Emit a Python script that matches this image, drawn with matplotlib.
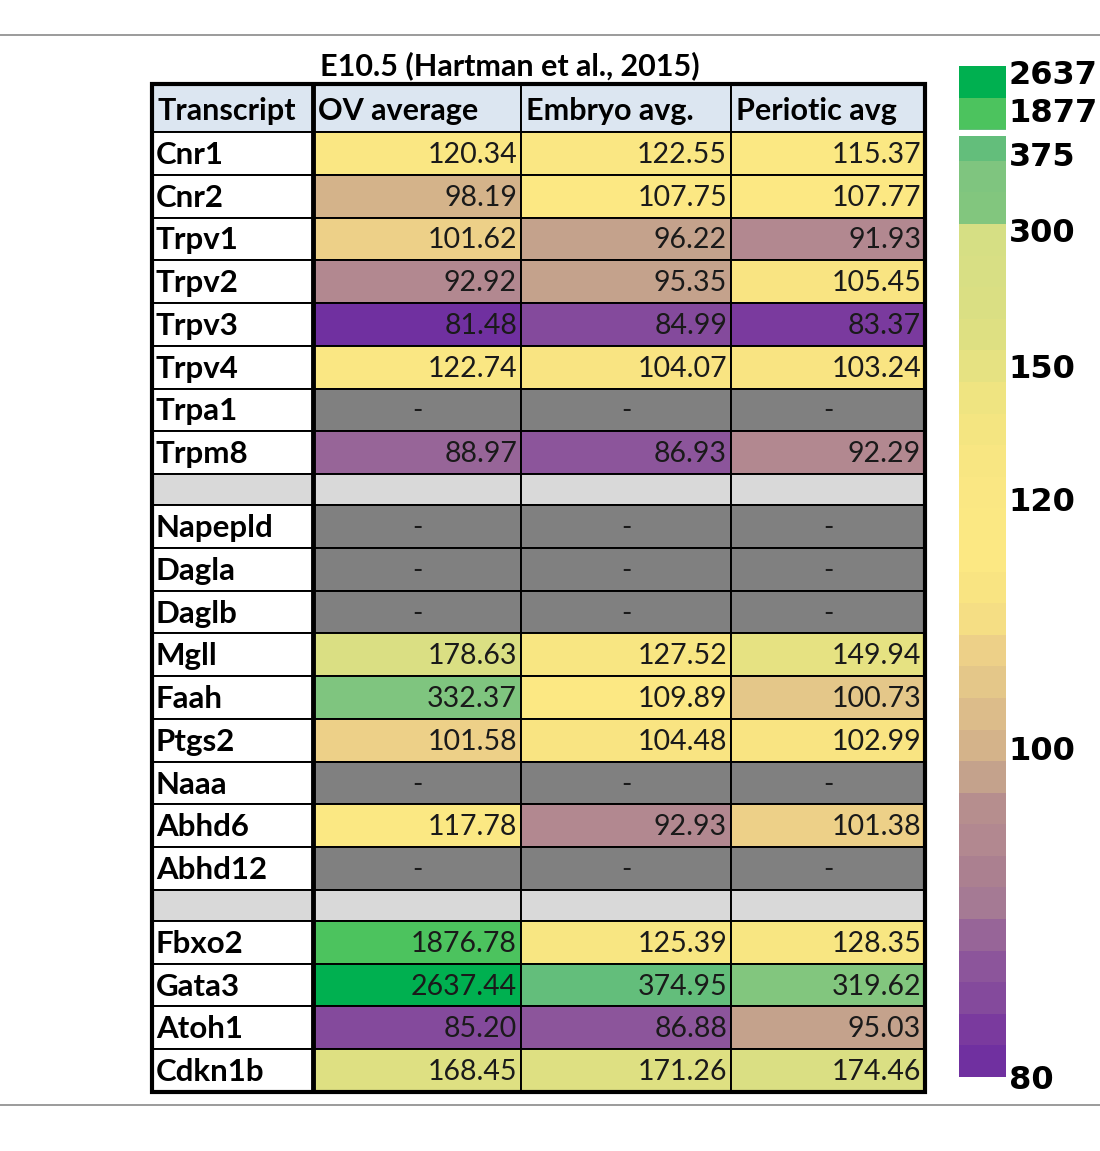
import numpy as np
import matplotlib
matplotlib.use('Agg')
import matplotlib.pyplot as plt
from matplotlib.patches import Rectangle
from matplotlib.lines import Line2D
from matplotlib.colors import ListedColormap

# The sheet: '' marks the grey spacer rows, nan a missing value
columns = ['Transcript', 'OV average', 'Embryo avg.', 'Periotic avg']
transcripts = ['Cnr1', 'Cnr2', 'Trpv1', 'Trpv2', 'Trpv3', 'Trpv4', 'Trpa1', 'Trpm8', '',
               'Napepld', 'Dagla', 'Daglb', 'Mgll', 'Faah', 'Ptgs2', 'Naaa', 'Abhd6', 'Abhd12', '',
               'Fbxo2', 'Gata3', 'Atoh1', 'Cdkn1b']
nan = np.nan
ov_average = [120.34, 98.19, 101.62, 92.92, 81.48, 122.74, nan, 88.97, nan,
              nan, nan, nan, 178.63, 332.37, 101.58, nan, 117.78, nan, nan,
              1876.78, 2637.44, 85.20, 168.45]
embryo_avg = [122.55, 107.75, 96.22, 95.35, 84.99, 104.07, nan, 86.93, nan,
              nan, nan, nan, 127.52, 109.89, 104.48, nan, 92.93, nan, nan,
              125.39, 374.95, 86.88, 171.26]
periotic_avg = [115.37, 107.77, 91.93, 105.45, 83.37, 103.24, nan, 92.29, nan,
                nan, nan, nan, 149.94, 100.73, 102.99, nan, 101.38, nan, nan,
                128.35, 319.62, 95.03, 174.46]
title = 'E10.5 (Hartman et al., 2015)'
cbar_ticks = [80, 100, 120, 150, 300, 375, 1877, 2637]

# 32 colour bands, purple -> yellow -> green (bottom to top of the colour bar)
band_colors = ['#7030A0', '#7A3A9E', '#844A9C', '#8C559B', '#976598', '#A57A94',
               '#AB8090', '#B28890', '#B68E8E', '#C4A28C', '#D4B38A', '#DCBC8A',
               '#E4C789', '#EDD088', '#F5DE84', '#F9E482', '#FCE883', '#FBE883',
               '#FAE783', '#F8E682', '#F4E581', '#EFE481', '#E6E282', '#DEE082',
               '#DADF83', '#D8DF84', '#D6DF84', '#82C67E', '#7FC57F', '#63BE7B',
               '#4CC35E', '#00B050']
# non-linear scale: value -> band level
scale_values = [80, 85, 89, 92.5, 95, 98, 100, 100.7, 101.4, 102.5, 103, 104, 110, 120,
                150, 180, 300, 320, 332, 375, 1877, 2637]
scale_levels = [0, 2.5, 4.8, 7.5, 9.3, 10.3, 10.4, 12.2, 13.2, 14.5, 15.1, 15.4, 16.5, 18.3,
                22.5, 24.5, 26.8, 27.3, 28.5, 29.2, 30.6, 31.8]


def level(v):
    return np.interp(v, scale_values, scale_levels)


def cell_color(v):
    i = int(np.clip(np.floor(level(v)), 0, len(band_colors) - 1))
    return band_colors[i]


W, H = 1100, 1151
fig = plt.figure(figsize=(W / 100, H / 100), dpi=100)
fig.patch.set_facecolor('white')

# thin rules of the page crop
for yy in (35, 1105):
    fig.add_artist(Line2D([0, 1], [1 - yy / H] * 2, color='#8a8a8a', lw=1.2))

fig.text(510 / W, 1 - 66 / H, title, ha='center', va='center',
         fontsize=22, fontweight='bold', family='Lato')

# table
col_w = [161, 208, 210, 194]
header_h, row_h, gap_h = 48, 42.76, 31
tab_w = sum(col_w)
heights = [header_h] + [gap_h if t == '' else row_h for t in transcripts]
tab_h = sum(heights)
ax = fig.add_axes([152 / W, 1 - 1092 / H, tab_w / W, tab_h / H])
ax.set_xlim(0, tab_w)
ax.set_ylim(tab_h, 0)
ax.axis('off')

xs = np.concatenate([[0], np.cumsum(col_w)])
ys = np.concatenate([[0], np.cumsum(heights)])
series = [ov_average, embryo_avg, periotic_avg]

for c, name in enumerate(columns):
    ax.add_patch(Rectangle((xs[c], 0), col_w[c], header_h, facecolor='#DCE6F1',
                           edgecolor='black', lw=1.4))
    ax.text(xs[c] + 5, header_h / 2 + 3, name, ha='left', va='center',
            fontsize=22, fontweight='bold', family='Lato', color='black')

for r, name in enumerate(transcripts):
    y0, h = ys[r + 1], heights[r + 1]
    yc = y0 + h / 2 + 1.5
    if name == '':
        for c in range(4):
            ax.add_patch(Rectangle((xs[c], y0), col_w[c], h, facecolor='#D9D9D9',
                                   edgecolor='black', lw=1.4))
        continue
    ax.add_patch(Rectangle((xs[0], y0), col_w[0], h, facecolor='white',
                           edgecolor='black', lw=1.4))
    ax.text(xs[0] + 4, yc, name, ha='left', va='center', fontsize=22.5,
            fontweight='bold', family='Lato', color='black')
    for c, vals in enumerate(series, start=1):
        v = vals[r]
        if np.isnan(v):
            ax.add_patch(Rectangle((xs[c], y0), col_w[c], h, facecolor='#808080',
                                   edgecolor='black', lw=1.4))
            ax.text(xs[c] + col_w[c] / 2, yc, '-', ha='center', va='center',
                    fontsize=20, family='Lato', color='#1a1a1a')
        else:
            ax.add_patch(Rectangle((xs[c], y0), col_w[c], h, facecolor=cell_color(v),
                                   edgecolor='black', lw=1.4))
            ax.text(xs[c + 1] - 4, yc, f'{v:.2f}', ha='right', va='center',
                    fontsize=20.5, family='Lato', color='#1a1a1a')

# heavy frame and first-column rule
ax.add_patch(Rectangle((0, 0), tab_w, tab_h, fill=False, edgecolor='black',
                       lw=3, clip_on=False))
ax.plot([xs[1], xs[1]], [0, tab_h], color='black', lw=3.5, clip_on=False,
        solid_capstyle='butt')

# colour bar
cax = fig.add_axes([959 / W, 1 - 1077 / H, 47 / W, 1011 / H])
nb = len(band_colors)
cax.imshow(np.arange(nb)[:, None], cmap=ListedColormap(band_colors), origin='lower',
           extent=[0, 1, 0, nb], aspect='auto', vmin=-0.5, vmax=nb - 0.5,
           interpolation='nearest')
cax.add_patch(Rectangle((0, 29.78), 1, 0.2, facecolor='white', edgecolor='none'))
cax.set_xlim(0, 1)
cax.set_ylim(0, nb)
cax.set_xticks([])
cax.yaxis.tick_right()
cax.set_yticks(level(cbar_ticks))
cax.set_yticklabels([str(t) for t in cbar_ticks], fontsize=23, fontweight='bold',
                    family='DejaVu Sans')
cax.tick_params(axis='y', length=0, pad=2)
for s in cax.spines.values():
    s.set_visible(False)

fig.savefig('out.png', dpi=100)
